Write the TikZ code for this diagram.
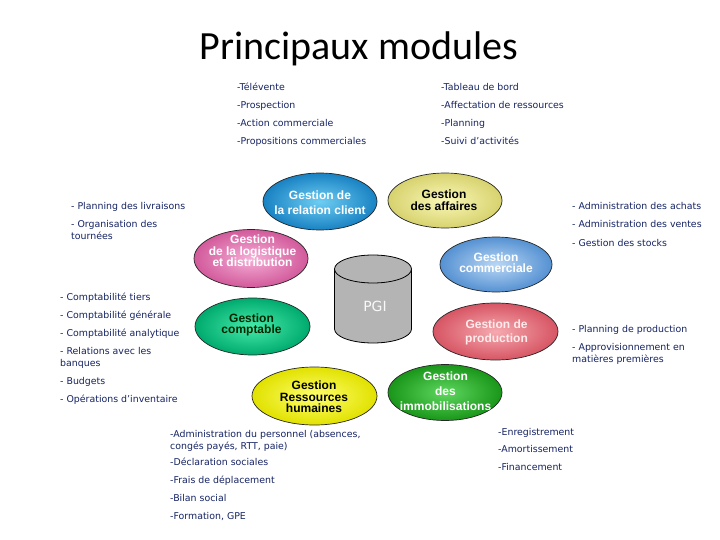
\documentclass[tikz,border=0pt]{standalone}
\usepackage{fontspec}
\setmainfont{DejaVu Sans}
\newfontfamily\titlefont{Carlito}
\newfontfamily\labfont{Liberation Sans}
\usetikzlibrary{shapes.geometric}
\definecolor{navy}{RGB}{22,36,100}
\definecolor{cylgray}{RGB}{180,180,180}
\definecolor{rcin}{RGB}{110,205,242}\definecolor{rcout}{RGB}{25,130,195}
\definecolor{afin}{RGB}{250,248,185}\definecolor{afout}{RGB}{215,210,110}
\definecolor{login}{RGB}{245,175,215}\definecolor{logout}{RGB}{210,90,155}
\definecolor{comin}{RGB}{185,215,245}\definecolor{comout}{RGB}{85,145,210}
\definecolor{cptin}{RGB}{70,235,170}\definecolor{cptout}{RGB}{0,170,110}
\definecolor{rhin}{RGB}{255,255,110}\definecolor{rhout}{RGB}{225,225,0}
\definecolor{prin}{RGB}{245,170,175}\definecolor{prout}{RGB}{215,85,100}
\definecolor{imin}{RGB}{95,215,95}\definecolor{imout}{RGB}{25,150,25}
\begin{document}
\begin{tikzpicture}[x=1pt,y=-1pt,
  item/.style={anchor=base west, inner sep=0pt, text=navy, font=\fontsize{9.4}{12}\selectfont},
  modbox/.style={ellipse, draw=black!85, line width=0.7pt, inner sep=0pt},
  modlabel/.style={align=center, inner sep=0pt, font=\labfont\bfseries\fontsize{12}{#1}\selectfont},
  modlabel/.default=12]
\useasboundingbox[fill=white] (0,0) rectangle (720,540);

\node[font=\titlefont\fontsize{40}{42}\selectfont, anchor=base, inner sep=0pt] (title) at (359,60) {Principaux modules};

% module ellipses
\node[modbox, minimum width=114pt, minimum height=57pt, inner color=rcin, outer color=rcout] (grc) at (320,201.5) {};
\node[modbox, minimum width=114pt, minimum height=55pt, inner color=afin, outer color=afout] (gaf) at (445,200.5) {};
\node[modbox, minimum width=114pt, minimum height=58pt, inner color=login, outer color=logout] (glog) at (251,258.5) {};
\node[modbox, minimum width=112pt, minimum height=55pt, inner color=comin, outer color=comout] (gcom) at (496,264.5) {};
\node[modbox, minimum width=115pt, minimum height=57pt, inner color=cptin, outer color=cptout] (gcpt) at (252.5,326.5) {};
\node[modbox, minimum width=125pt, minimum height=58pt, inner color=rhin, outer color=rhout] (grh) at (314.5,396) {};
\node[modbox, minimum width=125pt, minimum height=57pt, inner color=prin, outer color=prout] (gprod) at (495.5,331.5) {};
\node[modbox, minimum width=114pt, minimum height=56pt, inner color=imin, outer color=imout] (gimmo) at (445,392.5) {};

\node[modlabel=15, text=white] (trc) at (320,202.5) {Gestion de\\la relation client};
\node[modlabel=11.5, text=black] (taf) at (444,200) {Gestion\\des affaires};
\node[modlabel=11.5, text=white] (tlog) at (252.5,251) {Gestion\\de la logistique\\et distribution};
\node[modlabel=11.5, text=white] (tcom) at (496,262.5) {Gestion\\commerciale};
\node[modlabel=11.5, text=black!85!green] (tcpt) at (251.5,325) {Gestion\\comptable};
\node[modlabel=11.5, text=black] (trh) at (314,397) {Gestion\\Ressources\\humaines};
\node[modlabel=14, text=white!92!red] (tprod) at (496.5,332) {Gestion de\\production};
\node[modlabel=15, text=white] (timmo) at (445.5,391.7) {Gestion\\des\\immobilisations};

% PGI cylinder
\filldraw[draw=black, line width=0.8pt, fill=cylgray] (334.5,269) -- (334.5,329)
  arc[start angle=180, end angle=360, x radius=38.5pt, y radius=14pt] -- (411.5,269);
\filldraw[draw=black, line width=0.8pt, fill=cylgray] (373,269) ellipse [x radius=38.5pt, y radius=14pt];
\node[font=\fontsize{14}{16}\selectfont, text=white!95!gray, inner sep=0pt] (pgi) at (375,306) {PGI};

% lists
\foreach \yy/\txt [count=\i] in {91/{-Télévente},109/{-Prospection},127/{-Action commerciale},145/{-Propositions commerciales}}
  \node[item] (crm\i) at (237,\yy) {\txt};
\foreach \yy/\txt [count=\i] in {91/{-Tableau de bord},109/{-Affectation de ressources},127/{-Planning},145/{-Suivi d'activités}}
  \node[item] (aff\i) at (441,\yy) {\txt};
\foreach \yy/\txt [count=\i] in {210/{- Planning des livraisons},228/{- Organisation des},240/{tournées}}
  \node[item] (log\i) at (71,\yy) {\txt};
\foreach \yy/\txt [count=\i] in {300/{- Comptabilité tiers},318.5/{- Comptabilité générale},336/{- Comptabilité analytique},354.5/{- Relations avec les},366/{banques},384.5/{- Budgets},402.5/{- Opérations d'inventaire}}
  \node[item] (cpt\i) at (60,\yy) {\txt};
\foreach \yy/\txt [count=\i] in {210/{- Administration des achats},228/{- Administration des ventes},246/{- Gestion des stocks}}
  \node[item] (com\i) at (572,\yy) {\txt};
\foreach \yy/\txt [count=\i] in {332/{- Planning de production},350/{- Approvisionnement en},362/{matières premières}}
  \node[item] (prod\i) at (572,\yy) {\txt};
\foreach \yy/\txt [count=\i] in {437/{-Administration du personnel (absences,},449/{congés payés, RTT, paie)},465.5/{-Déclaration sociales},483.5/{-Frais de déplacement},501/{-Bilan social},519.5/{-Formation, GPE}}
  \node[item] (rh\i) at (170,\yy) {\txt};
\foreach \yy/\txt [count=\i] in {435/{-Enregistrement},452.5/{-Amortissement},470.5/{-Financement}}
  \node[item] (immo\i) at (498,\yy) {\txt};
\end{tikzpicture}
\end{document}
